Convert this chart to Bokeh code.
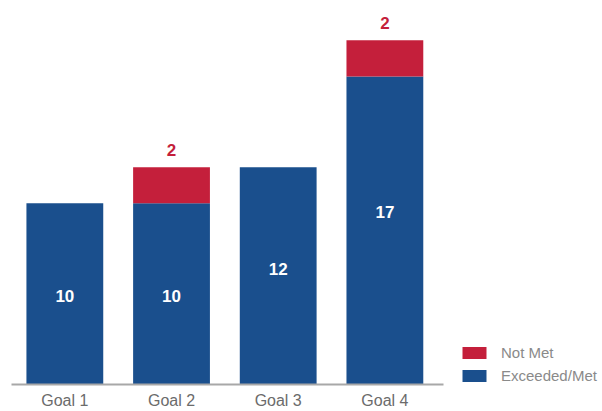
from bokeh.plotting import figure
from bokeh.models import ColumnDataSource, Legend, LegendItem, FixedTicker, Range1d
from bokeh.core.properties import value
from bokeh.embed import file_html
from bokeh.resources import INLINE

goals = ["Goal 1", "Goal 2", "Goal 3", "Goal 4"]
met = [10, 10, 12, 17]
not_met = [0, 2, 0, 2]
# value-axis height at which each white label sits
met_label_at = [4.9, 4.9, 6.35, 9.5]

BLUE = "#1a4f8d"
RED = "#c41f3b"
FONT = "'Liberation Sans', sans-serif"

xs = list(range(len(goals)))

p = figure(x_range=Range1d(-0.5, 5.04), y_range=Range1d(0, 21.2), width=602, height=411,
           output_backend="svg", toolbar_location=None,
           min_border_left=11, min_border_top=0, min_border_right=0, min_border_bottom=0)

src = ColumnDataSource(dict(
    x=xs, met=met, not_met=not_met,
    lab_y=met_label_at,
    met_lbl=[str(m) for m in met],
))
rs = p.vbar_stack(["met", "not_met"], x="x", width=0.72, color=[BLUE, RED],
                  line_width=0, source=src)

p.text(x="x", y="lab_y", text="met_lbl", source=src, text_color="white",
       text_font=value("Liberation Sans"), text_font_style="bold", text_font_size="17px",
       text_align="center", text_baseline="middle")

nm_idx = [i for i, n in enumerate(not_met) if n > 0]
src2 = ColumnDataSource(dict(
    x=[xs[i] for i in nm_idx],
    total=[met[i] + not_met[i] for i in nm_idx],
    lbl=[str(not_met[i]) for i in nm_idx],
))
p.text(x="x", y="total", text="lbl", source=src2, text_color=RED,
       text_font=value("Liberation Sans"), text_font_style="bold", text_font_size="17px",
       text_align="center", text_baseline="middle", y_offset=-17)

p.yaxis.visible = False
p.xgrid.grid_line_color = None
p.ygrid.grid_line_color = None
p.outline_line_color = None
p.xaxis.ticker = FixedTicker(ticks=xs)
p.xaxis.major_label_overrides = {x: g for x, g in zip(xs, goals)}
p.xaxis.bounds = (-0.51, len(goals) - 0.45)
p.xaxis.axis_line_color = "#a8a8a8"
p.xaxis.axis_line_width = 2
p.xaxis.major_tick_line_color = None
p.xaxis.major_tick_out = 0
p.xaxis.major_tick_in = 0
p.xaxis.minor_tick_line_color = None
p.xaxis.major_label_text_font_size = "16px"
p.xaxis.major_label_text_color = "#6b6b6b"
p.xaxis.major_label_text_font = FONT
p.xaxis.major_label_standoff = 7

legend = Legend(items=[LegendItem(label="Not Met", renderers=[rs[1]]),
                       LegendItem(label="Exceeded/Met", renderers=[rs[0]])],
                location=(448, 0), glyph_width=30, glyph_height=15,
                label_standoff=12, spacing=6, padding=0, margin=0,
                border_line_color=None, background_fill_alpha=0,
                label_text_font_size="15px", label_text_color="#8a8a8a",
                label_text_font=FONT)
p.add_layout(legend, "center")

open("out.html", "w").write(file_html(p, INLINE))
